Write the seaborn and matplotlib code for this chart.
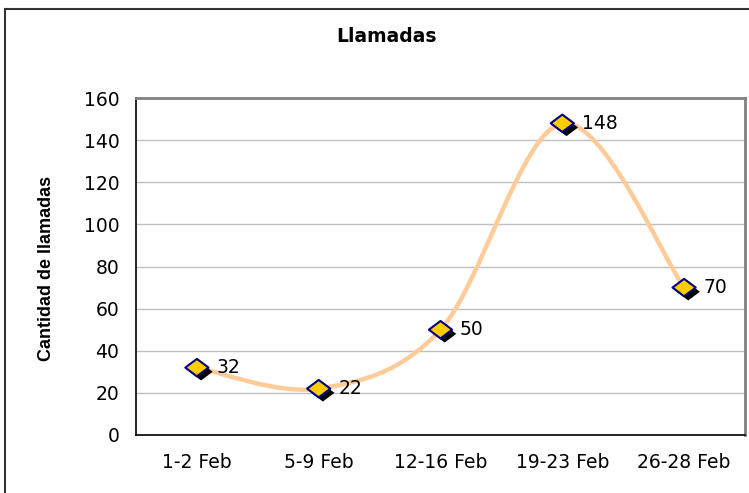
import matplotlib
matplotlib.use("Agg")
import matplotlib.pyplot as plt
import matplotlib.patheffects as pe
from matplotlib.path import Path
from matplotlib.patches import PathPatch, Rectangle
import seaborn as sns
import pandas as pd
import numpy as np

periods = ["1-2 Feb", "5-9 Feb", "12-16 Feb", "19-23 Feb", "26-28 Feb"]
calls = [32, 22, 50, 148, 70]

sns.set_style("white")
plt.rcParams["font.family"] = ["DejaVu Sans"]
plt.rcParams.update({"text.color": "black", "axes.labelcolor": "black",
                     "xtick.color": "black", "ytick.color": "black"})

df = pd.DataFrame({"periodo": periods, "llamadas": calls})
xs = np.arange(len(periods))

fig = plt.figure(figsize=(7.49, 4.93), dpi=100)
ax = fig.add_axes([136 / 749, 1 - 435 / 493, (745 - 136) / 749, (435 - 98) / 493])

# smoothed line like excel (bezier through the points)
pts = np.column_stack([xs, df["llamadas"].values]).astype(float)
verts = [tuple(pts[0])]
codes = [Path.MOVETO]
for i in range(len(pts) - 1):
    p0 = pts[i - 1] if i > 0 else pts[i]
    p1, p2 = pts[i], pts[i + 1]
    p3 = pts[i + 2] if i + 2 < len(pts) else pts[i + 1]
    c1 = p1 + (p2 - p0) / 6
    c2 = p2 - (p3 - p1) / 6
    verts += [tuple(c1), tuple(c2), tuple(p2)]
    codes += [Path.CURVE4] * 3
ax.add_patch(PathPatch(Path(verts, codes), fill=False, edgecolor="#FFCC99", lw=3.2, zorder=2))

diamond = Path([(-1, 0), (0, 0.75), (1, 0), (0, -0.75), (-1, 0)],
               [Path.MOVETO, Path.LINETO, Path.LINETO, Path.LINETO, Path.CLOSEPOLY])
sc = sns.scatterplot(x=xs, y=df["llamadas"], ax=ax, marker=diamond, s=280,
                     color="#FFCC00", edgecolor="#000080", linewidth=1.5, zorder=3)
sc.collections[0].set_path_effects([
    pe.SimplePatchShadow(offset=(3, -3), shadow_rgbFace="black", alpha=1.0),
    pe.Normal()])

for x, v in zip(xs, df["llamadas"]):
    ax.annotate(str(v), (x, v), xytext=(14, 0), textcoords="offset points",
                ha="left", va="center", fontsize=13.5, zorder=4)

ax.set_xlim(-0.5, len(periods) - 0.5)
ax.set_ylim(0, 160)
ax.set_yticks(range(0, 161, 20))
ax.set_xticks(xs)
ax.set_xticklabels(periods, fontsize=13.5)
ax.set_xticks(np.arange(-0.5, len(periods)), minor=True)
ax.tick_params(axis="x", which="major", length=0, pad=13)
ax.tick_params(axis="x", which="minor", length=5, width=1, color="black", direction="out")
ax.tick_params(axis="y", length=5, width=1, color="black", direction="out", labelsize=13.5, pad=7)
ax.yaxis.grid(True, color="#C0C0C0", lw=1)
ax.set_axisbelow(True)
for s in ["top", "right"]:
    ax.spines[s].set_color("#808080")
    ax.spines[s].set_linewidth(2)
for s in ["left", "bottom"]:
    ax.spines[s].set_color("black")
    ax.spines[s].set_linewidth(1.2)
ax.set_xlabel("")
ax.set_ylabel("")

fig.text(387 / 749, 1 - 37 / 493, "Llamadas", ha="center", va="center",
         fontsize=13.5, fontweight="bold")
fig.text(47 / 749, 1 - 268 / 493, "Cantidad de llamadas", ha="center", va="center",
         rotation=90, fontsize=13, fontweight="bold", family="Liberation Sans")

fig.patches.append(Rectangle((5 / 749, -0.1), 1.2, 0.1 + 1 - 9 / 493,
                             transform=fig.transFigure, fill=False,
                             edgecolor="#333333", lw=1.5))

fig.savefig("out.png", dpi=100)
